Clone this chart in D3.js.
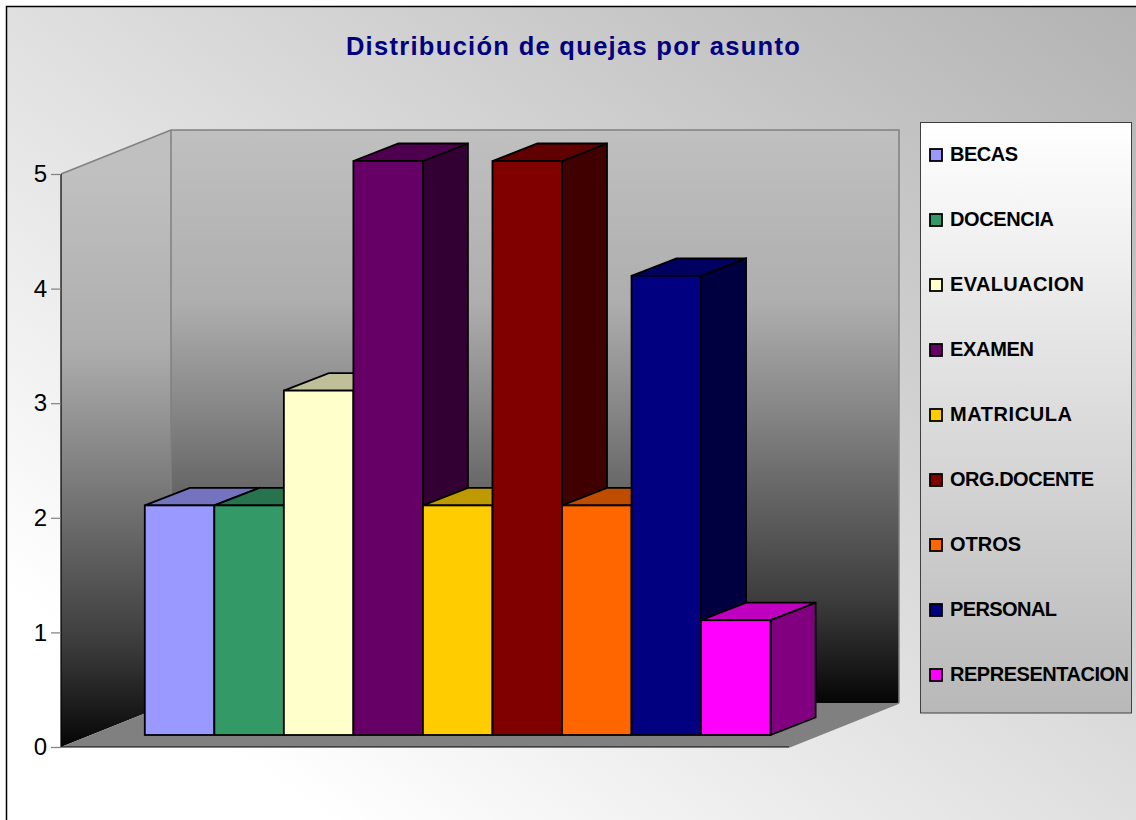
<!DOCTYPE html>
<html><head><meta charset="utf-8">
<script src="https://cdn.jsdelivr.net/npm/d3@7"></script>
<style>html,body{margin:0;padding:0;background:#fff}svg{display:block}text{font-family:"Liberation Sans",Arial,sans-serif}</style>
</head><body><div id="c"></div>
<script>
const titleText = "Distribución de quejas por asunto";
const categories = ["BECAS","DOCENCIA","EVALUACION","EXAMEN","MATRICULA","ORG.DOCENTE","OTROS","PERSONAL","REPRESENTACION"];
const values = [2,2,3,5,2,5,2,4,1];
const colors = ["#9999FF","#339966","#FFFFCC","#660066","#FFCC00","#800000","#FF6600","#000080","#FF00FF"];
const tickValues = [0,1,2,3,4,5];

// layout only: rendered width of each legend label
const legendWidths = [68,104,134,84,122,144,71,107,179];

const W=1136,H=820;
const svg=d3.select("#c").append("svg").attr("width",W).attr("height",H);
const defs=svg.append("defs");
function grad(id,x1,y1,x2,y2,stops,user){
  const g=defs.append("linearGradient").attr("id",id).attr("x1",x1).attr("y1",y1).attr("x2",x2).attr("y2",y2);
  if(user) g.attr("gradientUnits","userSpaceOnUse");
  stops.forEach(s=>g.append("stop").attr("offset",s[0]).attr("stop-color",s[1]));
}
const wallStops=[[0,"#c0c0c0"],[.3,"#aeaeae"],[.47,"#8a8a8a"],[.65,"#626262"],[.82,"#3c3c3c"],[.96,"#121212"],[1,"#050505"]];
grad("bg",0,1,1,0,[[0,"#ffffff"],[.15,"#ffffff"],[1,"#b2b2b2"]]);
grad("wallBack",0,130,0,703,wallStops,true);
grad("wallLeft",0,174,0,747,wallStops,true);
grad("leg",0,0,0,1,[[0,"#ffffff"],[1,"#b8b8b8"]]);

// chart area
svg.append("rect").attr("x",6.5).attr("y",6.5).attr("width",W+10).attr("height",H+10)
  .attr("fill","url(#bg)").attr("stroke","#000").attr("stroke-width",1.5);

const y=d3.scaleLinear().domain([0,5]).range([747,174]);
const yBar=d3.scaleLinear().domain([0,5]).range([735,161]);
const x=d3.scaleBand().domain(categories).range([144.8,770.6]).padding(0);
const wallDx=110,wallDy=-44,barDx=45,barDy=-17.5;
const x0=61,x1=789;
const poly=p=>p.map(d=>d.join(",")).join(" ");

// walls + floor
svg.append("polygon").attr("points",poly([[x0,y(5)],[x0+wallDx,y(5)+wallDy],[x0+wallDx,y(0)+wallDy],[x0,y(0)]])).attr("fill","url(#wallLeft)");
svg.append("rect").attr("x",x0+wallDx).attr("y",y(5)+wallDy).attr("width",x1-x0).attr("height",y(0)-y(5)).attr("fill","url(#wallBack)");
svg.append("polygon").attr("points",poly([[x0,y(0)],[x1,y(0)],[x1+wallDx,y(0)+wallDy],[x0+wallDx,y(0)+wallDy]])).attr("fill","#808080");
const gray=svg.append("g").attr("stroke","#808080").attr("stroke-width",1.5).attr("fill","none");
gray.append("path").attr("d",`M${x0},${y(5)}L${x0+wallDx},${y(5)+wallDy}H${x1+wallDx}V${y(0)+wallDy}M${x0+wallDx},${y(5)+wallDy}V${y(0)+wallDy}`);
gray.append("path").attr("d",`M${x1},${y(0)}L${x1+wallDx},${y(0)+wallDy}`);
svg.append("path").attr("d",`M${x0},${y(0)}H${x1}`).attr("stroke","#000").attr("stroke-width",1.2).attr("fill","none");

// axis
const axis=svg.append("g").attr("transform",`translate(${x0},0)`)
  .call(d3.axisLeft(y).tickValues(tickValues).tickFormat(d3.format("d")).tickSize(10).tickPadding(4));
axis.select(".domain").attr("stroke","#000").attr("stroke-width",1.2).attr("d",`M0,${y(5)}V${y(0)}`);
axis.selectAll(".tick line").attr("stroke","#808080").attr("stroke-width",1.2);
axis.selectAll("text").attr("font-size",24).attr("fill","#000").style("font-family","'Liberation Sans',Arial,sans-serif");

// bars
const shade=(c,f)=>{const r=d3.rgb(c);return d3.rgb(r.r*f,r.g*f,r.b*f).formatRgb();};
const bars=svg.append("g").selectAll("g").data(categories).join("g")
  .attr("stroke","#000").attr("stroke-width",1.8).attr("stroke-linejoin","miter");
bars.append("polygon").attr("fill",(d,i)=>shade(colors[i],.5)).attr("points",(d,i)=>{
  const r=x(d)+x.bandwidth(),t=yBar(values[i]),b=yBar(0);
  return poly([[r,t],[r+barDx,t+barDy],[r+barDx,b+barDy],[r,b]]);});
bars.append("polygon").attr("fill",(d,i)=>shade(colors[i],.75)).attr("points",(d,i)=>{
  const l=x(d),r=l+x.bandwidth(),t=yBar(values[i]);
  return poly([[l,t],[l+barDx,t+barDy],[r+barDx,t+barDy],[r,t]]);});
bars.append("rect").attr("fill",(d,i)=>colors[i]).attr("x",d=>x(d)).attr("width",x.bandwidth())
  .attr("y",(d,i)=>yBar(values[i])).attr("height",(d,i)=>yBar(0)-yBar(values[i]));

// title
svg.append("text").attr("x",573.5).attr("y",55).attr("text-anchor","middle").attr("font-size",25.5)
  .attr("font-weight","bold").attr("fill","#000080").attr("letter-spacing",1.3).text(titleText);

// legend
svg.append("rect").attr("x",920.5).attr("y",122.5).attr("width",211).attr("height",590.5)
  .attr("fill","url(#leg)").attr("stroke","#404040").attr("stroke-width",1);
const ly=d3.scalePoint().domain(categories).range([155,675]);
const lg=svg.append("g").selectAll("g").data(categories).join("g").attr("transform",d=>`translate(0,${ly(d)})`);
lg.append("rect").attr("x",930).attr("y",-6).attr("width",12).attr("height",12)
  .attr("fill",(d,i)=>colors[i]).attr("stroke","#000").attr("stroke-width",1.8);
lg.append("text").attr("x",950).attr("y",6).attr("font-size",20).attr("font-weight","bold").attr("fill","#000")
  .attr("textLength",(d,i)=>legendWidths[i]).attr("lengthAdjust","spacing").text(d=>d);
</script></body></html>
